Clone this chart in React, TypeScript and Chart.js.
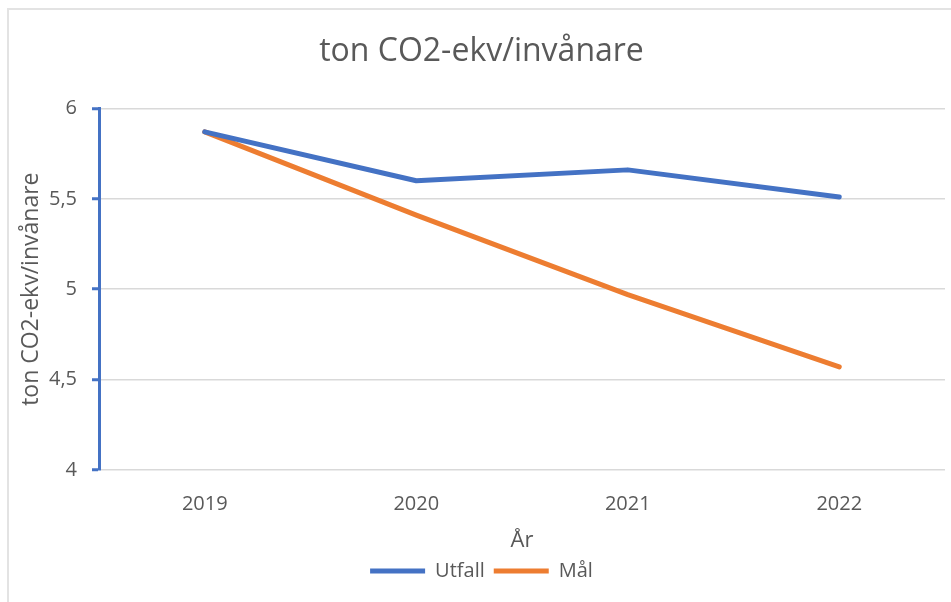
import React, { useEffect, useRef } from "react";
import { Chart, registerables } from "chart.js";

Chart.register(...registerables);

const categories = ["2019", "2020", "2021", "2022"];
const utfall = [5.87, 5.6, 5.66, 5.51];
const mal = [5.87, 5.41, 4.97, 4.57];
const yTicks = [4, 4.5, 5, 5.5, 6];

const FONT = "'Open Sans', sans-serif";
const TEXT = "#595959";

export default function App() {
  const ref = useRef<HTMLCanvasElement | null>(null);

  useEffect(() => {
    if (!ref.current) return;
    const chart = new Chart(ref.current, {
      type: "line",
      data: {
        labels: categories,
        datasets: [
          {
            label: "Utfall",
            data: utfall,
            borderColor: "#4472C4",
            backgroundColor: "#4472C4",
            borderWidth: 5,
            borderCapStyle: "round",
            borderJoinStyle: "round",
            pointRadius: 0,
            pointStyle: "line",
          },
          {
            label: "Mål",
            data: mal,
            borderColor: "#ED7D31",
            backgroundColor: "#ED7D31",
            borderWidth: 5,
            borderCapStyle: "round",
            borderJoinStyle: "round",
            pointRadius: 0,
            pointStyle: "line",
          },
        ],
      },
      options: {
        responsive: false,
        animation: false,
        layout: { padding: { left: 18, right: 6, top: 0, bottom: 11 } },
        plugins: {
          title: {
            display: true,
            text: "ton CO2-ekv/invånare",
            color: TEXT,
            font: { family: FONT, size: 32, weight: "normal" },
            padding: { top: 33, bottom: 37 },
          },
          legend: {
            position: "bottom",
            labels: {
              usePointStyle: true,
              pointStyle: "line",
              pointStyleWidth: 55,
              boxWidth: 55,
              boxHeight: 5,
              padding: 9,
              color: TEXT,
              font: { family: FONT, size: 20 },
            },
          },
          tooltip: { enabled: false },
        },
        scales: {
          x: {
            offset: true,
            grid: { display: false },
            border: { display: false },
            ticks: { color: TEXT, font: { family: FONT, size: 20 }, padding: 14 },
            title: {
              display: true,
              text: "År",
              color: TEXT,
              font: { family: FONT, size: 22, lineHeight: 1 },
              padding: { top: 0, bottom: 0 },
            },
          },
          y: {
            min: 4,
            max: 6,
            afterBuildTicks: (s: any) => {
              s.ticks = yTicks.map((v) => ({ value: v }));
            },
            afterFit: (s: any) => {
              s.width = 81;
            },
            grid: {
              color: "#d9d9d9",
              lineWidth: 1.5,
              tickColor: "#4472C4",
              tickWidth: 3,
              tickLength: 7,
            },
            border: { display: true, color: "#4472C4", width: 3 },
            ticks: {
              color: TEXT,
              font: { family: FONT, size: 20 },
              padding: 15,
              callback: (v: any) => String(v).replace(".", ","),
            },
            title: {
              display: true,
              text: "ton CO2-ekv/invånare",
              color: TEXT,
              font: { family: FONT, size: 23 },
              padding: { top: 0, bottom: 0 },
            },
          },
        },
      },
    });
    return () => chart.destroy();
  }, []);

  return (
    <div style={{ position: "absolute", left: 0, top: 0, width: 951, height: 602, background: "#fff" }}>
      <div
        style={{
          position: "absolute",
          left: 7,
          top: 8,
          right: 0,
          bottom: 0,
          borderTop: "2px solid #e3e3e3",
          borderLeft: "2px solid #e3e3e3",
        }}
      />
      <canvas ref={ref} width={951} height={602} style={{ position: "absolute", left: 0, top: 0 }} />
    </div>
  );
}
